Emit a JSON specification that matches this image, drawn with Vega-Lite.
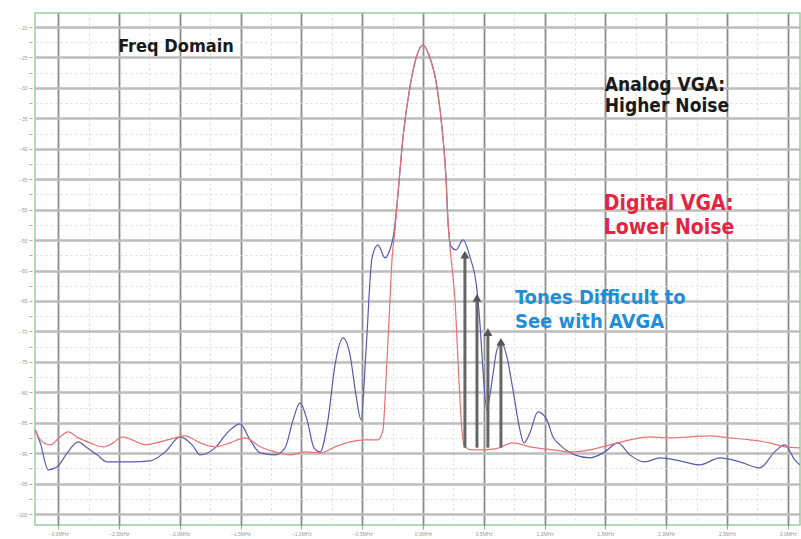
{
  "$schema": "https://vega.github.io/schema/vega-lite/v6.json",
  "width": 765,
  "height": 512,
  "autosize": {"type": "none"},
  "padding": {"left": 35, "top": 13, "right": 1, "bottom": 14},
  "background": "white",
  "config": {"view": {"stroke": "#9fcc9f", "strokeWidth": 1.5}},
  "datasets": {
    "analog": [
      {"f": -3.188, "v": -86.17}, {"f": -3.147, "v": -88.31}, {"f": -3.081, "v": -92.74}, {"f": -3.007, "v": -92.25},
      {"f": -2.925, "v": -89.95}, {"f": -2.835, "v": -88.14}, {"f": -2.761, "v": -89.13}, {"f": -2.679, "v": -90.28},
      {"f": -2.597, "v": -91.43}, {"f": -2.49, "v": -91.43}, {"f": -2.408, "v": -91.43}, {"f": -2.243, "v": -91.26},
      {"f": -2.12, "v": -89.79}, {"f": -1.997, "v": -87.32}, {"f": -1.898, "v": -88.64}, {"f": -1.832, "v": -90.28},
      {"f": -1.709, "v": -89.13}, {"f": -1.602, "v": -86.5}, {"f": -1.504, "v": -85.19}, {"f": -1.422, "v": -87.82},
      {"f": -1.339, "v": -89.95}, {"f": -1.216, "v": -90.28}, {"f": -1.134, "v": -89.13}, {"f": -1.068, "v": -84.53},
      {"f": -1.011, "v": -81.74}, {"f": -0.953, "v": -84.53}, {"f": -0.896, "v": -89.13}, {"f": -0.846, "v": -89.79},
      {"f": -0.781, "v": -84.53}, {"f": -0.723, "v": -75.5}, {"f": -0.657, "v": -71.07}, {"f": -0.6, "v": -73.86},
      {"f": -0.551, "v": -80.43}, {"f": -0.509, "v": -84.53}, {"f": -0.468, "v": -73.04}, {"f": -0.419, "v": -57.93},
      {"f": -0.37, "v": -55.8}, {"f": -0.312, "v": -57.93}, {"f": -0.279, "v": -56.95}, {"f": -0.238, "v": -53.66},
      {"f": -0.205, "v": -47.26}, {"f": -0.164, "v": -38.06}, {"f": -0.107, "v": -29.85}, {"f": -0.049, "v": -24.6},
      {"f": 0.0, "v": -22.96}, {"f": 0.049, "v": -24.6}, {"f": 0.115, "v": -29.85}, {"f": 0.164, "v": -38.06},
      {"f": 0.189, "v": -44.63}, {"f": 0.205, "v": -51.69}, {"f": 0.23, "v": -56.0}, {"f": 0.271, "v": -56.62},
      {"f": 0.329, "v": -54.97}, {"f": 0.386, "v": -57.77}, {"f": 0.444, "v": -63.18}, {"f": 0.468, "v": -68.6},
      {"f": 0.493, "v": -76.32}, {"f": 0.526, "v": -82.89}, {"f": 0.551, "v": -80.4}, {"f": 0.575, "v": -77.14},
      {"f": 0.608, "v": -73.04}, {"f": 0.649, "v": -71.89}, {"f": 0.69, "v": -74.19}, {"f": 0.74, "v": -79.6},
      {"f": 0.797, "v": -86.17}, {"f": 0.83, "v": -88.31}, {"f": 0.879, "v": -86.67}, {"f": 0.945, "v": -83.22},
      {"f": 1.019, "v": -84.53}, {"f": 1.068, "v": -87.32}, {"f": 1.126, "v": -88.64}, {"f": 1.249, "v": -90.28},
      {"f": 1.372, "v": -90.77}, {"f": 1.495, "v": -89.79}, {"f": 1.602, "v": -88.31}, {"f": 1.701, "v": -90.28},
      {"f": 1.824, "v": -91.43}, {"f": 1.947, "v": -90.77}, {"f": 2.112, "v": -91.26}, {"f": 2.276, "v": -91.92},
      {"f": 2.44, "v": -90.77}, {"f": 2.605, "v": -91.43}, {"f": 2.769, "v": -92.41}, {"f": 2.892, "v": -89.79},
      {"f": 2.975, "v": -88.64}, {"f": 3.057, "v": -91.1}, {"f": 3.098, "v": -91.92}
    ],
    "digital": [
      {"f": -3.188, "v": -86.17}, {"f": -3.147, "v": -87.82}, {"f": -3.065, "v": -88.64}, {"f": -2.983, "v": -87.32},
      {"f": -2.917, "v": -86.5}, {"f": -2.835, "v": -87.49}, {"f": -2.736, "v": -88.31}, {"f": -2.629, "v": -88.96},
      {"f": -2.547, "v": -88.31}, {"f": -2.473, "v": -87.32}, {"f": -2.391, "v": -87.82}, {"f": -2.284, "v": -88.64},
      {"f": -2.161, "v": -88.14}, {"f": -2.038, "v": -87.49}, {"f": -1.956, "v": -87.16}, {"f": -1.832, "v": -88.31},
      {"f": -1.709, "v": -88.96}, {"f": -1.586, "v": -88.31}, {"f": -1.463, "v": -87.49}, {"f": -1.339, "v": -88.96},
      {"f": -1.216, "v": -89.79}, {"f": -1.093, "v": -90.28}, {"f": -0.97, "v": -89.79}, {"f": -0.846, "v": -89.95},
      {"f": -0.723, "v": -88.96}, {"f": -0.6, "v": -88.14}, {"f": -0.477, "v": -87.82}, {"f": -0.37, "v": -87.82},
      {"f": -0.329, "v": -86.17}, {"f": -0.304, "v": -77.96}, {"f": -0.279, "v": -68.11}, {"f": -0.255, "v": -58.26},
      {"f": -0.23, "v": -53.33}, {"f": -0.205, "v": -47.26}, {"f": -0.164, "v": -38.06}, {"f": -0.107, "v": -29.85},
      {"f": -0.049, "v": -24.6}, {"f": 0.0, "v": -22.96}, {"f": 0.049, "v": -24.6}, {"f": 0.115, "v": -29.85},
      {"f": 0.164, "v": -38.06}, {"f": 0.189, "v": -44.63}, {"f": 0.205, "v": -51.69}, {"f": 0.222, "v": -56.12},
      {"f": 0.263, "v": -64.83}, {"f": 0.296, "v": -77.96}, {"f": 0.32, "v": -86.17}, {"f": 0.345, "v": -88.96},
      {"f": 0.403, "v": -89.46}, {"f": 0.468, "v": -89.46}, {"f": 0.592, "v": -89.3}, {"f": 0.74, "v": -88.31},
      {"f": 0.879, "v": -88.96}, {"f": 1.068, "v": -89.46}, {"f": 1.208, "v": -89.79}, {"f": 1.372, "v": -89.46},
      {"f": 1.537, "v": -88.64}, {"f": 1.701, "v": -87.82}, {"f": 1.865, "v": -87.32}, {"f": 2.03, "v": -87.49},
      {"f": 2.194, "v": -87.32}, {"f": 2.358, "v": -87.16}, {"f": 2.523, "v": -87.49}, {"f": 2.687, "v": -87.82},
      {"f": 2.851, "v": -88.31}, {"f": 2.975, "v": -88.96}, {"f": 3.098, "v": -89.13}
    ],
    "arrows": [
      {"f": 0.345, "base": -89.1, "tip": -57.4},
      {"f": 0.444, "base": -89.1, "tip": -64.5},
      {"f": 0.534, "base": -89.1, "tip": -70.1},
      {"f": 0.641, "base": -89.1, "tip": -71.7}
    ],
    "notes": [
      {"f": -2.506, "v": -23.3, "text": "Freq Domain", "kind": "title"},
      {"f": 1.495, "v": -29.5, "text": "Analog VGA:", "kind": "analog"},
      {"f": 1.495, "v": -32.9, "text": "Higher Noise", "kind": "analog"},
      {"f": 1.487, "v": -49.06, "text": "Digital VGA:", "kind": "digital"},
      {"f": 1.487, "v": -53.0, "text": "Lower Noise", "kind": "digital"},
      {"f": 0.756, "v": -64.5, "text": "Tones Difficult to", "kind": "tones"},
      {"f": 0.756, "v": -68.4, "text": "See with AVGA", "kind": "tones"}
    ]
  },
  "layer": [
    {
      "data": {"name": "analog"},
      "mark": {"type": "line", "color": "#5a5ab0", "strokeWidth": 1.2, "interpolate": "monotone"},
      "encoding": {
        "x": {
          "field": "f", "type": "quantitative",
          "scale": {"domain": [-3.19, 3.1], "nice": false, "zero": false},
          "axis": {
            "title": null,
            "values": [-3, -2.75, -2.5, -2.25, -2, -1.75, -1.5, -1.25, -1, -0.75, -0.5, -0.25, 0, 0.25, 0.5, 0.75, 1, 1.25, 1.5, 1.75, 2, 2.25, 2.5, 2.75, 3],
            "tickCount": 200,
            "domain": false,
            "grid": true,
            "labelOverlap": false,
            "gridColor": {"condition": {"test": "abs(datum.value*2 - round(datum.value*2)) < 0.01", "value": "#8c8c8c"}, "value": "#d8d8d8"},
            "gridWidth": {"condition": {"test": "abs(datum.value*2 - round(datum.value*2)) < 0.01", "value": 1.8}, "value": 1},
            "gridDash": {"condition": {"test": "abs(datum.value*2 - round(datum.value*2)) < 0.01", "value": []}, "value": [2, 3]},
            "tickColor": {"condition": {"test": "abs(datum.value*2 - round(datum.value*2)) < 0.01", "value": "#999"}, "value": "transparent"},
            "tickSize": 4,
            "labelExpr": "abs(datum.value*2 - round(datum.value*2)) < 0.01 ? format(datum.value, '.1f') + 'MHz' : ''",
            "labelFontSize": 5,
            "labelColor": "#9a9a9a",
            "labelPadding": 2
          }
        },
        "y": {
          "field": "v", "type": "quantitative",
          "scale": {"domain": [-101.8, -17.7], "nice": false, "zero": false},
          "axis": {
            "title": null,
            "values": [-100, -97.5, -95, -92.5, -90, -87.5, -85, -82.5, -80, -77.5, -75, -72.5, -70, -67.5, -65, -62.5, -60, -57.5, -55, -52.5, -50, -47.5, -45, -42.5, -40, -37.5, -35, -32.5, -30, -27.5, -25, -22.5, -20],
            "tickCount": 200,
            "domain": false,
            "grid": true,
            "labelOverlap": false,
            "gridColor": {"condition": {"test": "abs(datum.value/5 - round(datum.value/5)) < 0.01", "value": "#bdbdbd"}, "value": "#dadada"},
            "gridWidth": {"condition": {"test": "abs(datum.value/5 - round(datum.value/5)) < 0.01", "value": 2.5}, "value": 1},
            "gridDash": {"condition": {"test": "abs(datum.value/5 - round(datum.value/5)) < 0.01", "value": []}, "value": [2, 3]},
            "offset": 3,
            "tickSize": 3,
            "tickColor": "#aaa",
            "labelExpr": "abs(datum.value/5 - round(datum.value/5)) < 0.01 ? format(datum.value, 'd') : ''",
            "labelFontSize": 5,
            "labelColor": "#9a9a9a",
            "labelPadding": 2
          }
        }
      }
    },
    {
      "data": {"name": "digital"},
      "mark": {"type": "line", "color": "#e87272", "strokeWidth": 1.2, "interpolate": "monotone"},
      "encoding": {
        "x": {"field": "f", "type": "quantitative"},
        "y": {"field": "v", "type": "quantitative"}
      }
    },
    {
      "data": {"name": "arrows"},
      "mark": {"type": "rule", "color": "#666666", "strokeWidth": 3},
      "encoding": {
        "x": {"field": "f", "type": "quantitative"},
        "y": {"field": "base", "type": "quantitative"},
        "y2": {"field": "tip"}
      }
    },
    {
      "data": {"name": "arrows"},
      "mark": {"type": "point", "shape": "triangle-up", "filled": true, "color": "#555555", "size": 80, "opacity": 1},
      "encoding": {
        "x": {"field": "f", "type": "quantitative"},
        "y": {"field": "tip", "type": "quantitative"}
      }
    },
    {
      "data": {"name": "notes"},
      "transform": [{"filter": "datum.kind == 'title'"}],
      "mark": {"type": "text", "align": "left", "baseline": "middle", "font": "DejaVu Sans Condensed, sans-serif", "fontWeight": "bold", "fontSize": 18, "color": "#1a1a1a"},
      "encoding": {
        "x": {"field": "f", "type": "quantitative"},
        "y": {"field": "v", "type": "quantitative"},
        "text": {"field": "text"}
      }
    },
    {
      "data": {"name": "notes"},
      "transform": [{"filter": "datum.kind == 'analog'"}],
      "mark": {"type": "text", "align": "left", "baseline": "middle", "font": "DejaVu Sans Condensed, sans-serif", "fontWeight": "bold", "fontSize": 19, "color": "#1a1a1a"},
      "encoding": {
        "x": {"field": "f", "type": "quantitative"},
        "y": {"field": "v", "type": "quantitative"},
        "text": {"field": "text"}
      }
    },
    {
      "data": {"name": "notes"},
      "transform": [{"filter": "datum.kind == 'digital'"}],
      "mark": {"type": "text", "align": "left", "baseline": "middle", "font": "DejaVu Sans Condensed, sans-serif", "fontWeight": "bold", "fontSize": 21, "color": "#e5243f"},
      "encoding": {
        "x": {"field": "f", "type": "quantitative"},
        "y": {"field": "v", "type": "quantitative"},
        "text": {"field": "text"}
      }
    },
    {
      "data": {"name": "notes"},
      "transform": [{"filter": "datum.kind == 'tones'"}],
      "mark": {"type": "text", "align": "left", "baseline": "middle", "font": "DejaVu Sans Condensed, sans-serif", "fontWeight": "bold", "fontSize": 20, "color": "#1e8ed8"},
      "encoding": {
        "x": {"field": "f", "type": "quantitative"},
        "y": {"field": "v", "type": "quantitative"},
        "text": {"field": "text"}
      }
    }
  ]
}
